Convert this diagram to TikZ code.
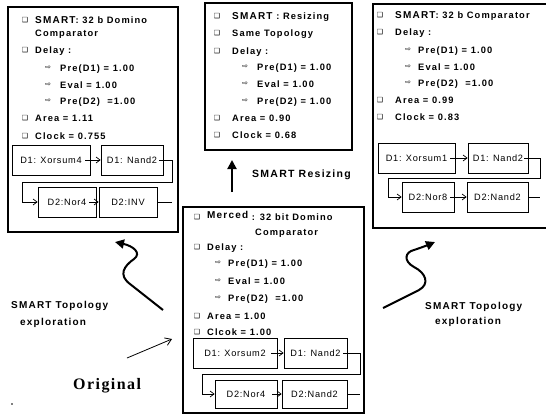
\documentclass[tikz,border=0pt]{standalone}
\usepackage{fontspec}
\usetikzlibrary{arrows.meta}
\newfontfamily\tfam[LetterSpace=12]{Liberation Sans}
\newfontfamily\gfam[LetterSpace=8]{Liberation Sans}
\newfontfamily\ofam[LetterSpace=9]{Liberation Serif}
\newfontfamily\djv{DejaVu Sans}
\tikzset{
 boxframe/.style={draw, line width=2pt, anchor=north west, inner sep=0pt, outer sep=0pt},
 txt/.style={anchor=base west, inner sep=0pt, font=\tfam\bfseries\fontsize{9.3}{10}\selectfont},
 labl/.style={anchor=base west, inner sep=0pt, font=\tfam\bfseries\fontsize{10}{11}\selectfont},
 bul/.style={inner sep=0pt, font=\djv\fontsize{7}{7}\selectfont},
 gatebox/.style={draw, line width=0.7pt, minimum height=30pt, inner sep=0pt, font=\gfam\fontsize{9.2}{10}\selectfont},
 wirel/.style={line width=0.7pt},
 linkar/.style={line width=0.7pt, -{Straight Barb[length=4pt,width=6pt]}},
 bigarrow/.style={line width=2pt, -{Triangle[length=9pt,width=9pt]}},
}
\newcommand{\bigw}[1]{{\fontsize{10}{11}\selectfont #1}}
\begin{document}
\begin{tikzpicture}[x=1pt,y=-1pt]
\clip (0,0) rectangle (546,416);
\fill[white] (0,0) rectangle (546,416);

% ---------- Box 1 ----------
\node[boxframe, minimum width=170pt, minimum height=225pt] (f1) at (8,7) {};
\node[bul] (f1b1) at (25,20) {❑};
\node[txt] (f1t1) at (35,23.3) {\bigw{SMART}: 32 b Domino};
\node[txt] (f1t2) at (35,36.3) {Comparator};
\node[bul] (f1b2) at (25,50) {❑};
\node[txt] (f1t3) at (35,53.3) {Delay :};
\node[bul] (f1a1) at (48,68) {⇨};
\node[txt] (f1t4) at (60,71.3) {Pre(D1) = 1.00};
\node[bul] (f1a2) at (48,85) {⇨};
\node[txt] (f1t5) at (60,88.3) {Eval = 1.00};
\node[bul] (f1a3) at (48,101) {⇨};
\node[txt] (f1t6) at (60,104.3) {Pre(D2)~ =1.00};
\node[bul] (f1b3) at (25,118) {❑};
\node[txt] (f1t7) at (35,121.3) {Area = 1.11};
\node[bul] (f1b4) at (25,136) {❑};
\node[txt] (f1t8) at (35,139.3) {Clock = 0.755};
\node[gatebox, minimum width=78pt] (g1a) at (51,160) {D1: Xorsum4};
\node[gatebox, minimum width=62pt] (g1b) at (132,160) {D1: Nand2};
\node[gatebox, minimum width=58pt] (g1c) at (67,202) {D2:Nor4};
\node[gatebox, minimum width=58pt] (g1d) at (128,202) {D2:INV};
\coordinate (o1) at (172,202);
\draw[linkar] ([xshift=-5pt]g1a.east) -- (g1b.west);
\draw[linkar] ([xshift=-4pt]g1b.east) -| (172,182) -| (22,202) -- (g1c.west);
\draw[linkar] ([xshift=-7pt]g1c.east) -- (g1d.west);
\draw[wirel] (g1d.east) -- (o1);

% ---------- Box 2 ----------
\node[boxframe, minimum width=147pt, minimum height=147pt] (f2) at (205,3) {};
\node[bul] (f2b1) at (217,16) {❑};
\node[txt] (f2t1) at (232,19.3) {\bigw{SMART} : Resizing};
\node[bul] (f2b2) at (217,33) {❑};
\node[txt] (f2t2) at (232,36.3) {Same Topology};
\node[bul] (f2b3) at (217,51) {❑};
\node[txt] (f2t3) at (232,54.3) {Delay :};
\node[bul] (f2a1) at (245,67) {⇨};
\node[txt] (f2t4) at (257,70.3) {Pre(D1) = 1.00};
\node[bul] (f2a2) at (245,84) {⇨};
\node[txt] (f2t5) at (257,87.3) {Eval = 1.00};
\node[bul] (f2a3) at (245,101) {⇨};
\node[txt] (f2t6) at (257,104.3) {Pre(D2) = 1.00};
\node[bul] (f2b4) at (217,118) {❑};
\node[txt] (f2t7) at (232,121.3) {Area = 0.90};
\node[bul] (f2b5) at (217,135) {❑};
\node[txt] (f2t8) at (232,138.3) {Clock = 0.68};

\coordinate (ua0) at (232,192);
\coordinate (ua1) at (232,160);
\draw[bigarrow] (ua0) -- (ua1);
\node[labl, font=\tfam\bfseries\fontsize{10.5}{12}\selectfont] (lres) at (252,177.7) {SMART Resizing};

% ---------- Box 3 ----------
\node[boxframe, minimum width=190pt, minimum height=224pt] (f3) at (373,4) {};
\node[bul] (f3b1) at (380,15) {❑};
\node[txt] (f3t1) at (395,18.3) {\bigw{SMART}: 32 b Comparator};
\node[bul] (f3b2) at (380,32) {❑};
\node[txt] (f3t2) at (395,35.3) {Delay :};
\node[bul] (f3a1) at (408,50) {⇨};
\node[txt] (f3t3) at (418,53.3) {Pre(D1) = 1.00};
\node[bul] (f3a2) at (408,67) {⇨};
\node[txt] (f3t4) at (418,70.3) {Eval = 1.00};
\node[bul] (f3a3) at (408,83) {⇨};
\node[txt] (f3t5) at (418,86.3) {Pre(D2)~ =1.00};
\node[bul] (f3b3) at (380,100) {❑};
\node[txt] (f3t6) at (395,103.3) {Area = 0.99};
\node[bul] (f3b4) at (380,117) {❑};
\node[txt] (f3t7) at (395,120.3) {Clock = 0.83};
\node[gatebox, minimum width=77pt] (g3a) at (416.5,158) {D1: Xorsum1};
\node[gatebox, minimum width=60pt] (g3b) at (498,158) {D1: Nand2};
\node[gatebox, minimum width=52pt] (g3c) at (428,197) {D2:Nor8};
\node[gatebox, minimum width=61pt] (g3d) at (497.5,197) {D2:Nand2};
\coordinate (o3) at (540,197);
\draw[linkar] ([xshift=-5pt]g3a.east) -- (g3b.west);
\draw[linkar] ([xshift=-4pt]g3b.east) -| (540,178) -| (388,197) -- (g3c.west);
\draw[linkar] ([xshift=-4pt]g3c.east) -- (g3d.west);
\draw[wirel] (g3d.east) -- (o3);

% ---------- Box 4 ----------
\node[boxframe, minimum width=181pt, minimum height=206pt] (f4) at (183,207) {};
\node[bul] (f4b1) at (197,217) {❑};
\node[txt] (f4t1) at (207,220.8) {\raisebox{2pt}{\bigw{Merced}} : 32 bit Domino};
\node[txt] (f4t2) at (255,235.3) {Comparator};
\node[bul] (f4b2) at (197,247) {❑};
\node[txt] (f4t3) at (207,250.3) {Delay :};
\node[bul] (f4a1) at (218,263) {⇨};
\node[txt] (f4t4) at (228,266.3) {Pre(D1) = 1.00};
\node[bul] (f4a2) at (218,281) {⇨};
\node[txt] (f4t5) at (228,284.3) {Eval = 1.00};
\node[bul] (f4a3) at (218,298) {⇨};
\node[txt] (f4t6) at (228,301.3) {Pre(D2)~ =1.00};
\node[bul] (f4b3) at (197,316) {❑};
\node[txt] (f4t7) at (207,319.3) {Area = 1.00};
\node[bul] (f4b4) at (197,332) {❑};
\node[txt] (f4t8) at (207,335.3) {Clcok = 1.00};
\node[gatebox, minimum width=84pt] (g4a) at (235,353) {D1: Xorsum2};
\node[gatebox, minimum width=63pt] (g4b) at (315.5,353) {D1: Nand2};
\node[gatebox, minimum width=62pt, minimum height=28pt] (g4c) at (246,394) {D2:Nor4};
\node[gatebox, minimum width=65pt, minimum height=28pt] (g4d) at (314.5,394) {D2:Nand2};
\coordinate (o4) at (360,394);
\draw[linkar] ([xshift=-6pt]g4a.east) -- (g4b.west);
\draw[linkar] ([xshift=-4pt]g4b.east) -| (360,374) -| (202,394) -- (g4c.west);
\draw[linkar] ([xshift=-5pt]g4c.east) -- (g4d.west);
\draw[wirel] (g4d.east) -- (o4);

% ---------- Annotations ----------
\coordinate (cl0) at (163,310);
\coordinate (cl1) at (115,242);
\draw[bigarrow] (cl0) -- (130,284) .. controls (118,275) and (124,266) .. (134,259) .. controls (142,253) and (133,246) .. (cl1);
\node[labl] (lt1) at (11,308.5) {SMART Topology};
\node[labl] (lt2) at (20,325.5) {exploration};

\coordinate (cr0) at (383,308);
\coordinate (cr1) at (435,242);
\draw[bigarrow] (cr0) -- (419,290) .. controls (430,284) and (426,273) .. (414,267) .. controls (403,261) and (405,252) .. (414,250) .. controls (420,248) and (428,245) .. (cr1);
\node[labl] (rt1) at (425,309.5) {SMART Topology};
\node[labl] (rt2) at (435,324.5) {exploration};

\coordinate (sa0) at (127,358);
\coordinate (sa1) at (172,339);
\draw[line width=0.8pt, -{Straight Barb[length=6pt,width=8pt]}] (sa0) -- (sa1);
\node[anchor=base west, inner sep=0pt, font=\ofam\bfseries\fontsize{16}{18}\selectfont] (orig) at (73,389.5) {Original};

\fill[gray] (11,403) rectangle (13,405);
\end{tikzpicture}
\end{document}
